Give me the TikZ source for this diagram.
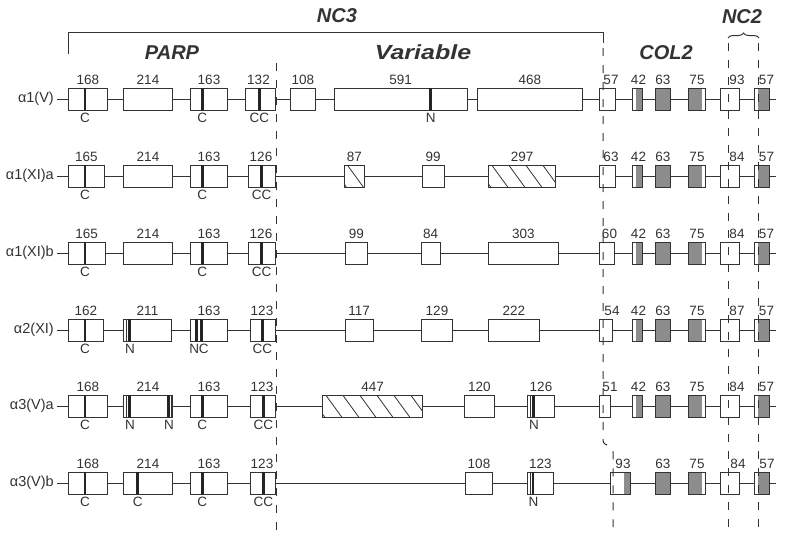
\documentclass[tikz,border=0pt]{standalone}
\usepackage{fontspec}
\setmainfont{Liberation Sans}
\usetikzlibrary{decorations.pathreplacing}
\definecolor{ink}{HTML}{333333}
\definecolor{exgray}{HTML}{8C8C8C}
\tikzset{
 ln/.style={draw=ink, line width=1pt},
 boxst/.style={draw=ink, line width=1pt, fill=white},
 cbarst/.style={draw=ink!70!black, line width=2.5pt},
 tbarst/.style={draw=ink, line width=0.9pt},
 hatchst/.style={draw=ink, line width=0.8pt},
 numlab/.style={font=\fontsize{13.5}{15}\selectfont, text=ink, inner sep=0pt},
 rowlab/.style={font=\fontsize{14.5}{16}\selectfont, text=ink, inner sep=0pt, anchor=east},
 head/.style={font=\fontsize{20}{22}\selectfont\bfseries\itshape, text=ink, inner sep=0pt},
 vdash/.style={draw=ink, line width=1pt, dash pattern=on 8pt off 9pt},
}
\newcount\labn
\newcommand\nlab[3]{\global\advance\labn by 1 \node[numlab] (t\the\labn) at (#1,#2) {#3};}
% plain exon
\newcommand\ex[3]{\draw[boxst] (#1,-11) rectangle (#2,11); \nlab{{(#1+#2)/2}}{-19}{#3}}
% plain exon, label at given x
\newcommand\exl[4]{\draw[boxst] (#1,-11) rectangle (#2,11); \nlab{#4}{-19}{#3}}
% full gray exon
\newcommand\gex[3]{\draw[boxst, fill=exgray] (#1,-11) rectangle (#2,11); \nlab{{(#1+#2)/2}}{-19}{#3}}
% partly gray exon: x1 x2 gx1 gx2 label labelx
\newcommand\pex[6]{\fill[white] (#1,-11) rectangle (#2,11); \fill[exgray] (#3,-11) rectangle (#4,11);
  \draw[ln] (#1,-11) rectangle (#2,11); \nlab{#6}{-19}{#5}}
% hatched exon
\newcommand\hex[3]{\draw[boxst] (#1,-11) rectangle (#2,11);
  \begin{scope}\clip (#1,-11) rectangle (#2,11);
  \foreach \k in {0,...,12}{\draw[hatchst] ({#1-14+\k*17},-11) -- ++(16,22);}
  \end{scope}
  \draw[ln] (#1,-11) rectangle (#2,11); \nlab{{(#1+#2)/2}}{-19}{#3}}
\newcommand\cbar[1]{\draw[cbarst] (#1,-11) -- (#1,11);}
\newcommand\tbar[1]{\draw[tbarst] (#1,-11) -- (#1,11);}
\newcommand\blab[2]{\nlab{#1}{19}{#2}}
% COL2 / NC2 part of rows 1-5
\newcommand\colright[5]{\exl{599.3}{#1}{#2}{#3}
  \pex{632.3}{642.5}{636}{642.5}{42}{638.5}
  \gex{655.7}{670}{63}
  \pex{688.3}{705.7}{688.3}{701.7}{75}{697}
  \exl{720.3}{739}{#4}{737}
  \pex{754.3}{769.3}{758.3}{769.3}{57}{766.5}}
\begin{document}
\begin{tikzpicture}[x=1pt,y=-1pt]
\useasboundingbox (0,0) rectangle (785,539);
\fill[white] (0,0) rectangle (785,539);

% headings
\node[head] (nc3) at (337,16) {NC3};
\node[head] (parp) at (172,53) {PARP};
\node[head] (var) at (423,52) {\scalebox{1.25}[1.02]{Variable}};
\node[head] (col2) at (666,53) {COL2};
\node[head] (nc2) at (742,17) {NC2};
\coordinate (b1) at (68,54);
\coordinate (b2) at (68,32);
\coordinate (b3) at (603,32);
\coordinate (b4) at (603,43);
\draw[ln] (b1) -- (b2) -- (b3) -- (b4);
\coordinate (br1) at (728,38);
\coordinate (br2) at (759,38);
\draw[ln, decorate, decoration={brace, amplitude=5pt}] (br1) -- (br2);

% row 1
\begin{scope}[yshift=-99pt]
 \coordinate (r1s) at (57,0); \coordinate (r1e) at (776,0);
 \draw[ln] (r1s) -- (r1e);
 \node[rowlab] (r1) at (54,0) {α1(V)};
 \ex{68.3}{107.3}{168} \cbar{85} \blab{85}{C}
 \ex{123.3}{172.7}{214}
 \ex{190.7}{227.3}{163} \cbar{202.3} \blab{202.3}{C}
 \exl{245.7}{275.7}{132}{258.5} \cbar{259.3} \blab{259.3}{CC}
 \ex{290}{315.7}{108}
 \ex{334}{467.3}{591} \cbar{430.7} \blab{430.7}{N}
 \ex{477.3}{582.3}{468}
 \colright{615}{57}{611}{93}{}
\end{scope}

% row 2
\begin{scope}[yshift=-176pt]
 \coordinate (r2s) at (57,0); \coordinate (r2e) at (776,0);
 \draw[ln] (r2s) -- (r2e);
 \node[rowlab] (r2) at (54,0) {α1(XI)a};
 \ex{68.3}{104.3}{165} \cbar{85} \blab{85}{C}
 \ex{123.3}{172.7}{214}
 \ex{190.7}{227.3}{163} \cbar{202.3} \blab{202.3}{C}
 \exl{248.3}{275.7}{126}{261} \cbar{261.7} \blab{261.7}{CC}
 \hex{344.3}{364.3}{87}
 \ex{422}{444.3}{99}
 \hex{488.7}{555.7}{297}
 \colright{615}{63}{611}{84}{}
\end{scope}

% row 3
\begin{scope}[yshift=-253pt]
 \coordinate (r3s) at (57,0); \coordinate (r3e) at (776,0);
 \draw[ln] (r3s) -- (r3e);
 \node[rowlab] (r3) at (54,0) {α1(XI)b};
 \ex{68.3}{105}{165} \cbar{85} \blab{85}{C}
 \ex{123.3}{172.7}{214}
 \ex{190.7}{227.3}{163} \cbar{202.3} \blab{202.3}{C}
 \exl{248.3}{275.7}{126}{261} \cbar{261.7} \blab{261.7}{CC}
 \ex{345}{367.7}{99}
 \ex{421}{440.3}{84}
 \ex{488.7}{558}{303}
 \colright{614.5}{60}{609.5}{84}{}
\end{scope}

% row 4
\begin{scope}[yshift=-330pt]
 \coordinate (r4s) at (57,0); \coordinate (r4e) at (776,0);
 \draw[ln] (r4s) -- (r4e);
 \node[rowlab] (r4) at (54,0) {α2(XI)};
 \ex{68.3}{103.3}{162} \cbar{85} \blab{85}{C}
 \ex{123.3}{171.7}{211} \tbar{126} \cbar{129.3} \blab{130}{N}
 \ex{190.7}{227.3}{163} \cbar{196.7} \cbar{201.3} \blab{199}{NC}
 \exl{250}{275.7}{123}{262} \cbar{262.3} \blab{262.3}{CC}
 \ex{345}{373.3}{117}
 \ex{421.7}{452.3}{129}
 \ex{488.3}{539.3}{222}
 \colright{612.3}{54}{612}{87}{}
\end{scope}

% row 5
\begin{scope}[yshift=-406pt]
 \coordinate (r5s) at (57,0); \coordinate (r5e) at (776,0);
 \draw[ln] (r5s) -- (r5e);
 \node[rowlab] (r5) at (54,0) {α3(V)a};
 \ex{68.3}{107.3}{168} \cbar{85} \blab{85}{C}
 \ex{123.3}{172.7}{214} \tbar{126} \cbar{129.3} \blab{130}{N}
   \cbar{168.5} \tbar{171} \blab{169}{N}
 \ex{190.7}{227.3}{163} \cbar{202.3} \blab{202.3}{C}
 \exl{250}{275.7}{123}{262} \cbar{263.3} \blab{263.3}{CC}
 \hex{322.7}{422.7}{447}
 \ex{464.3}{494.3}{120}
 \ex{527.7}{554.3}{126} \tbar{530} \cbar{533.3} \blab{534}{N}
 \colright{610.7}{51}{610}{84}{}
\end{scope}

% row 6
\begin{scope}[yshift=-483pt]
 \coordinate (r6s) at (57,0); \coordinate (r6e) at (776,0);
 \draw[ln] (r6s) -- (r6e);
 \node[rowlab] (r6) at (54,0) {α3(V)b};
 \ex{68.3}{107.3}{168} \cbar{85} \blab{85}{C}
 \ex{123.3}{172.7}{214} \cbar{137.7} \blab{137.7}{C}
 \ex{190.7}{227.3}{163} \cbar{202.3} \blab{202.3}{C}
 \exl{250}{275.7}{123}{262} \cbar{263.3} \blab{263.3}{CC}
 \ex{465.7}{492.3}{108}
 \ex{527.3}{553.3}{123} \tbar{530} \cbar{533} \blab{533.5}{N}
 \pex{610}{630}{624.3}{630}{93}{623}
 \gex{655.7}{670}{63}
 \pex{688.3}{705.7}{688.3}{701.7}{75}{697}
 \exl{720.3}{739}{84}{738}
 \pex{754.3}{769.3}{758.3}{769.3}{57}{767}
\end{scope}

% dashed domain boundaries
\coordinate (d1a) at (276,63);  \coordinate (d1b) at (276,533);
\coordinate (d2a) at (603,48);  \coordinate (d2b) at (603,440);
\coordinate (d2c) at (613,452); \coordinate (d2d) at (613,527);
\coordinate (d3a) at (728,43);  \coordinate (d3b) at (728,533);
\coordinate (d4a) at (758.3,43);  \coordinate (d4b) at (758.3,533);
\draw[vdash] (d1a) -- (d1b);
\draw[vdash] (d2a) -- (d2b) .. controls (603,447) and (613,444) .. (d2c) -- (d2d);
\draw[vdash] (d3a) -- (d3b);
\draw[vdash] (d4a) -- (d4b);
\end{tikzpicture}
\end{document}
